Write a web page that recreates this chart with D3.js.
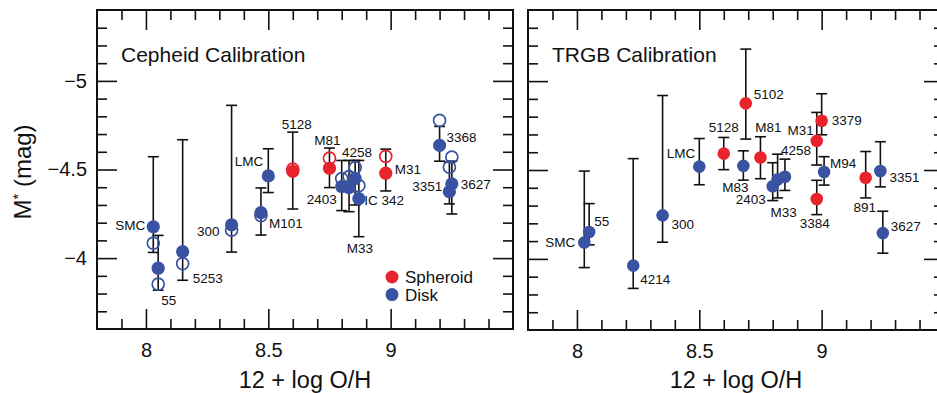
<!DOCTYPE html>
<html>
<head>
<meta charset="utf-8">
<script src="https://cdn.jsdelivr.net/npm/d3@7/dist/d3.min.js"></script>
<style>
  body { margin: 0; background: #fff; }
  svg { display: block; font-family: "Liberation Sans", Arial, Helvetica, sans-serif; }
  .lbl { font-size: 13.5px; fill: #111; }
</style>
</head>
<body>
<svg id="chart" width="937" height="393"></svg>
<script>
// ---- data ----
const xTickValues = [8, 8.5, 9];
const yTickValues = [-5, -4.5, -4];

// Cepheid calibration (left)
const cephNames   = ["SMC", "55", "5253", "300", "M101", "LMC", "5128", "M81", "2403", "4258", "IC 342", "M33", "M31", "3368", "3351", "3627"];
const cephOH      = [8.03, 8.05, 8.15, 8.35, 8.47, 8.50, 8.60, 8.75, 8.80, 8.83, 8.855, 8.87, 8.98, 9.20, 9.24, 9.25];
const cephType    = ["disk", "disk", "disk", "disk", "disk", "disk", "sph", "sph", "disk", "disk", "disk", "disk", "sph", "disk", "disk", "disk"];
const cephFilled  = [-4.177, -3.943, -4.037, -4.188, -4.257, -4.464, -4.49, -4.507, -4.404, -4.398, -4.449, -4.336, -4.479, -4.636, -4.375, -4.419];
const cephOpen    = [-4.085, -3.853, -3.969, -4.158, -4.24, null, -4.502, -4.564, -4.449, -4.46, -4.511, -4.409, -4.574, -4.777, -4.513, -4.570];
const cephErrLo   = [-4.572, -4.128, -4.668, -4.862, -4.396, -4.617, -4.711, -4.621, -4.551, -4.551, -4.551, -4.551, -4.615, -4.743, -4.541, -4.547];
const cephErrHi   = [-4.032, -3.819, -3.875, -4.034, -4.13, -4.37, -4.277, -4.398, -4.268, -4.262, -4.30, -4.121, -4.379, -4.547, -4.306, -4.249];

// TRGB calibration (right)
const trgbNames   = ["SMC", "55", "4214", "300", "LMC", "5128", "M83", "5102", "M81", "2403", "M33", "4258", "M31", "3384", "3379", "M94", "891", "3351", "3627"];
const trgbOH      = [8.03, 8.05, 8.23, 8.35, 8.50, 8.60, 8.68, 8.69, 8.75, 8.80, 8.82, 8.85, 8.98, 8.98, 9.00, 9.01, 9.18, 9.24, 9.25];
const trgbType    = ["disk", "disk", "disk", "disk", "disk", "sph", "disk", "sph", "sph", "disk", "disk", "disk", "sph", "sph", "sph", "disk", "sph", "disk", "disk"];
const trgbM       = [-4.092, -4.151, -3.962, -4.245, -4.519, -4.592, -4.523, -4.875, -4.57, -4.409, -4.447, -4.462, -4.664, -4.337, -4.777, -4.489, -4.456, -4.494, -4.145];
const trgbErrLo   = [-4.494, -4.311, -4.564, -4.919, -4.677, -4.683, -4.608, -5.18, -4.687, -4.541, -4.589, -4.561, -4.824, -4.442, -4.929, -4.575, -4.604, -4.659, -4.268];
const trgbErrHi   = [-3.951, -4.079, -3.834, -4.094, -4.417, -4.502, -4.443, -4.674, -4.451, -4.328, -4.343, -4.385, -4.528, -4.249, -4.698, -4.415, -4.343, -4.405, -4.032];

const legendNames = ["Spheroid", "Disk"];

// ---- layout ----
const colors = { sph: "#e8232b", disk: "#3a52a2" };
const frames = [
  { x0: 97, x1: 513, y0: 10, y1: 329, title: "Cepheid Calibration" },
  { x0: 528, x1: 944, y0: 10, y1: 330, title: "TRGB Calibration" }
];

// label placement [anchor, dx, dy] relative to the filled symbol
const cephLabelPos = {
  "SMC": ["end", -8, 3], "55": ["start", 3, 37], "5253": ["start", 10, 31], "300": ["end", -12, 11],
  "M101": ["start", 8, 15], "LMC": ["end", -5, -10], "5128": ["middle", 4, -42], "M81": ["middle", -2, -23],
  "2403": ["end", -5, 17], "4258": ["start", -7, -31], "IC 342": ["start", 9, 26], "M33": ["middle", 1, 54],
  "M31": ["start", 9, 1], "3368": ["start", 7, -3], "3351": ["end", -7, -1], "3627": ["start", 9, 5]
};
const trgbLabelPos = {
  "SMC": ["end", -9, 4], "55": ["start", 5, -6], "4214": ["start", 7, 18], "300": ["start", 9, 14],
  "LMC": ["end", -4, -9], "5128": ["middle", 0, -22], "M83": ["middle", -8, 26], "5102": ["start", 8, -4],
  "M81": ["middle", 8, -26], "2403": ["end", -7, 18], "M33": ["middle", 6, 38], "4258": ["start", -4, -22],
  "M31": ["end", -3, -6], "3384": ["middle", -2, 29], "3379": ["start", 10, 4], "M94": ["start", 6, -4],
  "891": ["middle", -1, 34], "3351": ["start", 9, 11], "3627": ["start", 8, -2]
};

const svg = d3.select("#chart");

function drawAxes(g, f, x, y, withYLabels) {
  const minorX = d3.range(7.8, 9.51, 0.1).map(v => +v.toFixed(1)).filter(v => xTickValues.indexOf(v) < 0 && v > 7.8 && v < 9.5);
  const minorY = d3.range(-5.3, -3.65, 0.1).map(v => +v.toFixed(1)).filter(v => yTickValues.indexOf(v) < 0);

  const axes = [
    { gen: d3.axisBottom(x), t: `translate(0,${f.y1})`, major: xTickValues, minor: minorX, labels: true },
    { gen: d3.axisTop(x), t: `translate(0,${f.y0})`, major: xTickValues, minor: minorX, labels: false },
    { gen: d3.axisLeft(y), t: `translate(${f.x0},0)`, major: yTickValues, minor: minorY, labels: withYLabels },
    { gen: d3.axisRight(y), t: `translate(${f.x1},0)`, major: yTickValues, minor: minorY, labels: false }
  ];
  axes.forEach(a => {
    const minorG = g.append("g").attr("transform", a.t)
      .call(a.gen.tickValues(a.minor).tickSize(-10).tickFormat(""));
    minorG.select(".domain").remove();
    const majorG = g.append("g").attr("transform", a.t)
      .call(a.gen.tickValues(a.major).tickSize(-20).tickPadding(a === axes[0] ? 14 : 10)
        .tickFormat(a.labels ? (d => String(d).replace("-", "\u2212")) : ""));
    majorG.select(".domain").remove();
    [minorG, majorG].forEach(s => s.selectAll(".tick line").attr("stroke", "#111").attr("stroke-width", 1.6));
    majorG.selectAll(".tick text").attr("font-size", 20).attr("fill", "#111")
      .attr("font-family", "'Liberation Sans', Arial, sans-serif");
  });

  g.append("rect").attr("x", f.x0).attr("y", f.y0)
    .attr("width", f.x1 - f.x0).attr("height", f.y1 - f.y0)
    .attr("fill", "none").attr("stroke", "#111").attr("stroke-width", 2);

  g.append("text").attr("x", (f.x0 + f.x1) / 2).attr("y", 388)
    .attr("text-anchor", "middle").attr("font-size", 23.5).attr("fill", "#111")
    .text("12 + log O/H");

  g.append("text").attr("x", f.x0 + 24).attr("y", 62)
    .attr("font-size", 21).attr("fill", "#111").text(f.title);
}

function drawErrorBars(g, x, y, oh, lo, hi) {
  const bars = g.append("g").attr("stroke", "#111").attr("stroke-width", 1.6);
  oh.forEach((v, i) => {
    const cx = x(v);
    bars.append("line").attr("x1", cx).attr("x2", cx).attr("y1", y(lo[i])).attr("y2", y(hi[i]));
    [lo[i], hi[i]].forEach(e => {
      bars.append("line").attr("x1", cx - 5.5).attr("x2", cx + 5.5).attr("y1", y(e)).attr("y2", y(e));
    });
  });
}

function drawLabels(g, x, y, names, oh, m, pos) {
  names.forEach((n, i) => {
    const p = pos[n];
    g.append("text").attr("class", "lbl")
      .attr("x", x(oh[i]) + p[1]).attr("y", y(m[i]) + p[2])
      .attr("text-anchor", p[0]).text(n);
  });
}

// ---- left panel: Cepheid ----
{
  const f = frames[0];
  const x = d3.scaleLinear().domain([7.8, 9.5]).range([f.x0, f.x1]);
  const y = d3.scaleLinear().domain([-5.4, -3.6]).range([f.y0, f.y1]);
  const g = svg.append("g");
  drawAxes(g, f, x, y, true);
  drawErrorBars(g, x, y, cephOH, cephErrLo, cephErrHi);

  g.append("g").selectAll("circle")
    .data(cephOH.map((v, i) => ({ v, m: cephOpen[i], t: cephType[i] })).filter(d => d.m !== null))
    .join("circle")
    .attr("cx", d => x(d.v)).attr("cy", d => y(d.m)).attr("r", 6)
    .attr("fill", "none").attr("stroke", d => colors[d.t]).attr("stroke-width", 1.7);

  g.append("g").selectAll("circle")
    .data(cephOH.map((v, i) => ({ v, m: cephFilled[i], t: cephType[i] })))
    .join("circle")
    .attr("cx", d => x(d.v)).attr("cy", d => y(d.m)).attr("r", 6.6)
    .attr("fill", d => colors[d.t]);

  drawLabels(g, x, y, cephNames, cephOH, cephFilled, cephLabelPos);

  // legend
  const lg = g.append("g");
  legendNames.forEach((n, i) => {
    const cy = 277 + i * 17.6;
    lg.append("circle").attr("cx", 392).attr("cy", cy).attr("r", 6.5)
      .attr("fill", i === 0 ? colors.sph : colors.disk);
    lg.append("text").attr("x", 405).attr("y", cy + 6).attr("font-size", 17)
      .attr("fill", "#111").text(n);
  });

  // y axis title
  const yt = svg.append("text")
    .attr("transform", "translate(31,172) rotate(-90)")
    .attr("text-anchor", "middle").attr("font-size", 24).attr("fill", "#111");
  yt.append("tspan").text("M");
  yt.append("tspan").attr("font-size", 15).attr("baseline-shift", "super").text("*");
  yt.append("tspan").text(" (mag)");
}

// ---- right panel: TRGB ----
{
  const f = frames[1];
  const x = d3.scaleLinear().domain([7.8, 9.5]).range([f.x0, f.x1]);
  const y = d3.scaleLinear().domain([-5.4, -3.6]).range([f.y0, f.y1]);
  const g = svg.append("g");
  drawAxes(g, f, x, y, false);
  drawErrorBars(g, x, y, trgbOH, trgbErrLo, trgbErrHi);

  g.append("g").selectAll("circle")
    .data(trgbOH.map((v, i) => ({ v, m: trgbM[i], t: trgbType[i] })))
    .join("circle")
    .attr("cx", d => x(d.v)).attr("cy", d => y(d.m)).attr("r", 6.3)
    .attr("fill", d => colors[d.t]);

  drawLabels(g, x, y, trgbNames, trgbOH, trgbM, trgbLabelPos);
}
</script>
</body>
</html>
